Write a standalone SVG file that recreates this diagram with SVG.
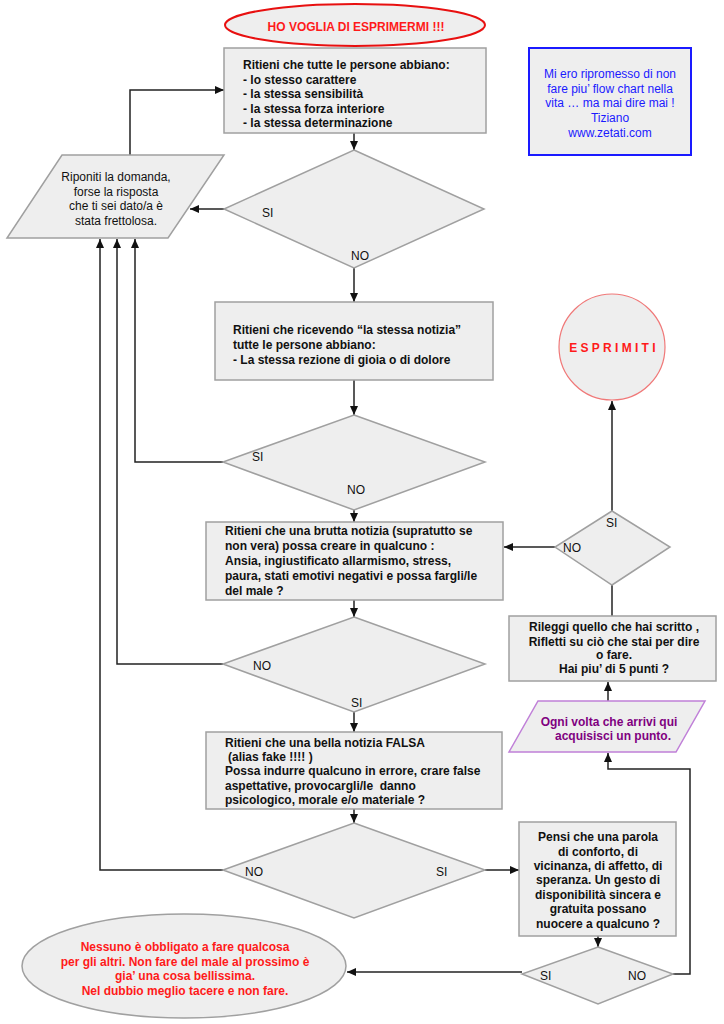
<svg xmlns="http://www.w3.org/2000/svg" width="724" height="1024" viewBox="0 0 724 1024">
<defs>
<marker id="arr" markerUnits="userSpaceOnUse" markerWidth="10" markerHeight="8" refX="9" refY="4" orient="auto">
<path d="M0,0 L9,4 L0,8 z" fill="#111"/>
</marker>
<style>
.box{fill:#eeeeee;stroke:#a0a0a0;stroke-width:1.5}
.t{font-family:"Liberation Sans",Arial,sans-serif;font-size:12px;fill:#111}
.b{font-weight:bold}
.c{text-anchor:middle}
.red{fill:#ff1a1a}
.lbl{font-family:"Liberation Sans",Arial,sans-serif;font-size:12px;fill:#111}
.con{fill:none;stroke:#222;stroke-width:1.5;marker-end:url(#arr)}
.con2{fill:none;stroke:#222;stroke-width:1.5}
</style>
</defs>
<rect width="724" height="1024" fill="#ffffff"/>

<g id="connectors">
<path class="con" d="M354,133 L354,150"/>
<path class="con" d="M224,209 L190,209"/>
<path class="con" d="M354,268 L354,302"/>
<path class="con" d="M354,380 L354,415"/>
<path class="con" d="M223,462 L135,462 L135,239"/>
<path class="con" d="M354,510 L354,522"/>
<path class="con" d="M354,600 L354,617"/>
<path class="con" d="M223,664 L117,664 L117,239"/>
<path class="con" d="M354,712 L354,732"/>
<path class="con" d="M354,809 L354,823"/>
<path class="con" d="M223,870 L100,870 L100,239"/>
<path class="con" d="M485,870 L519,870"/>
<path class="con" d="M598,936 L598,947"/>
<path class="con" d="M522,972 L347,972"/>
<path class="con" d="M673,974 L690,974 L690,769 L608,769 L608,753"/>
<path class="con" d="M608,701 L608,682"/>
<path class="con2" d="M612,616 L612,585"/>
<path class="con" d="M612,511 L612,401"/>
<path class="con" d="M555,547 L504,547"/>
<path class="con" d="M130,155 L130,90 L224,90"/>
</g>

<g id="start">
<ellipse cx="355" cy="25" rx="130" ry="21" fill="#eeeeee" stroke="#e81010" stroke-width="2"/>
<text class="t b c red" x="356" y="31">HO VOGLIA DI ESPRIMERMI !!!</text>
</g>

<g id="note">
<rect x="529" y="48" width="162" height="107" fill="#eeeeee" stroke="#1a1aff" stroke-width="2"/>
<text class="t c" style="fill:#1a1aff" x="610" y="78">Mi ero ripromesso di non</text>
<text class="t c" style="fill:#1a1aff" x="610" y="93">fare piu’ flow chart nella</text>
<text class="t c" style="fill:#1a1aff" x="610" y="107">vita … ma mai dire mai !</text>
<text class="t c" style="fill:#1a1aff" x="610" y="122">Tiziano</text>
<text class="t c" style="fill:#1a1aff" x="610" y="137">www.zetati.com</text>
</g>

<g id="q1">
<rect class="box" x="224" y="48" width="262" height="85"/>
<text class="t b" x="243" y="69">Ritieni che tutte le persone abbiano:</text>
<text class="t b" x="243" y="83.5">- lo stesso carattere</text>
<text class="t b" x="243" y="98">- la stessa sensibilità</text>
<text class="t b" x="243" y="112.5">- la stessa forza interiore</text>
<text class="t b" x="243" y="127">- la stessa determinazione</text>
</g>

<g id="d1">
<polygon class="box" points="354,150 484,209 354,268 224,209"/>
<text class="lbl" x="262" y="217">SI</text>
<text class="lbl" x="351" y="260">NO</text>
</g>

<g id="retry">
<polygon class="box" points="62,155 224,155 168,238 7,238"/>
<text class="t c" x="116" y="181">Riponiti la domanda,</text>
<text class="t c" x="116" y="196">forse la risposta</text>
<text class="t c" x="116" y="210">che ti sei dato/a è</text>
<text class="t c" x="116" y="225">stata frettolosa.</text>
</g>

<g id="q2">
<rect class="box" x="215" y="302" width="278" height="78"/>
<text class="t b" x="233" y="334">Ritieni che ricevendo “la stessa notizia”</text>
<text class="t b" x="233" y="349">tutte le persone abbiano:</text>
<text class="t b" x="233" y="364">- La stessa rezione di gioia o di dolore</text>
</g>

<g id="d2">
<polygon class="box" points="354,415 485,462 354,510 223,462"/>
<text class="lbl" x="252" y="461">SI</text>
<text class="lbl" x="347" y="494">NO</text>
</g>

<g id="q3">
<rect class="box" x="206" y="522" width="297" height="78"/>
<text class="t b" x="225" y="535">Ritieni che una brutta notizia (supratutto se</text>
<text class="t b" x="225" y="550">non vera) possa creare in qualcuno :</text>
<text class="t b" x="225" y="565">Ansia, ingiustificato allarmismo, stress,</text>
<text class="t b" x="225" y="580">paura, stati emotivi negativi e possa fargli/le</text>
<text class="t b" x="225" y="595">del male ?</text>
</g>

<g id="d3">
<polygon class="box" points="354,617 485,664 354,712 223,664"/>
<text class="lbl" x="253" y="670">NO</text>
<text class="lbl" x="351" y="707">SI</text>
</g>

<g id="q4">
<rect class="box" x="206" y="732" width="296" height="77"/>
<text class="t b" x="225" y="747">Ritieni che una bella notizia FALSA</text>
<text class="t b" x="228" y="761">(alias fake !!!! )</text>
<text class="t b" x="225" y="775">Possa indurre qualcuno in errore, crare false</text>
<text class="t b" x="225" y="790">aspettative, provocargli/le&#160; danno</text>
<text class="t b" x="225" y="804">psicologico, morale e/o materiale ?</text>
</g>

<g id="d4">
<polygon class="box" points="354,823 485,870 354,918 223,870"/>
<text class="lbl" x="245" y="876">NO</text>
<text class="lbl" x="436" y="876">SI</text>
</g>

<g id="q5">
<rect class="box" x="519" y="822" width="157" height="114"/>
<text class="t b c" x="598" y="841">Pensi che una parola</text>
<text class="t b c" x="598" y="856">di conforto, di</text>
<text class="t b c" x="598" y="870">vicinanza, di affetto, di</text>
<text class="t b c" x="598" y="884">speranza. Un gesto di</text>
<text class="t b c" x="598" y="899">disponibilità sincera e</text>
<text class="t b c" x="598" y="913">gratuita possano</text>
<text class="t b c" x="598" y="928">nuocere a qualcuno ?</text>
</g>

<g id="d5">
<polygon class="box" points="598,947 673,974 598,1004 522,974"/>
<text class="lbl" x="540" y="980">SI</text>
<text class="lbl" x="628" y="980">NO</text>
</g>

<g id="end">
<ellipse cx="184" cy="966" rx="162" ry="52" fill="#eeeeee" stroke="#a0a0a0" stroke-width="1.5"/>
<text class="t b c red" x="185" y="951">Nessuno è obbligato a fare qualcosa</text>
<text class="t b c red" x="185" y="966">per gli altri. Non fare del male al prossimo è</text>
<text class="t b c red" x="185" y="980">gia’ una cosa bellissima.</text>
<text class="t b c red" x="185" y="995">Nel dubbio meglio tacere e non fare.</text>
</g>

<g id="point">
<polygon points="538,701 705,701 676,752 509,752" fill="#eeeeee" stroke="#c080d8" stroke-width="1.5"/>
<text class="t b c" style="fill:#800080" x="609" y="726">Ogni volta che arrivi qui</text>
<text class="t b c" style="fill:#800080" x="613" y="740">acquisisci un punto.</text>
</g>

<g id="reread">
<rect class="box" x="509" y="616" width="207" height="65"/>
<text class="t b c" x="614" y="631">Rileggi quello che hai scritto ,</text>
<text class="t b c" x="614" y="646">Rifletti su ciò che stai per dire</text>
<text class="t b c" x="614" y="659">o fare.</text>
<text class="t b c" x="614" y="673">Hai piu’ di 5 punti ?</text>
</g>

<g id="d6">
<polygon class="box" points="612,511 670,547 612,585 555,547"/>
<text class="lbl" x="606" y="527">SI</text>
<text class="lbl" x="563" y="552">NO</text>
</g>

<g id="express">
<circle cx="612" cy="347" r="53" fill="#eeeeee" stroke="#f07878" stroke-width="1.2"/>
<text class="t b c red" x="614" y="352" style="letter-spacing:3.3px">ESPRIMITI</text>
</g>
</svg>
